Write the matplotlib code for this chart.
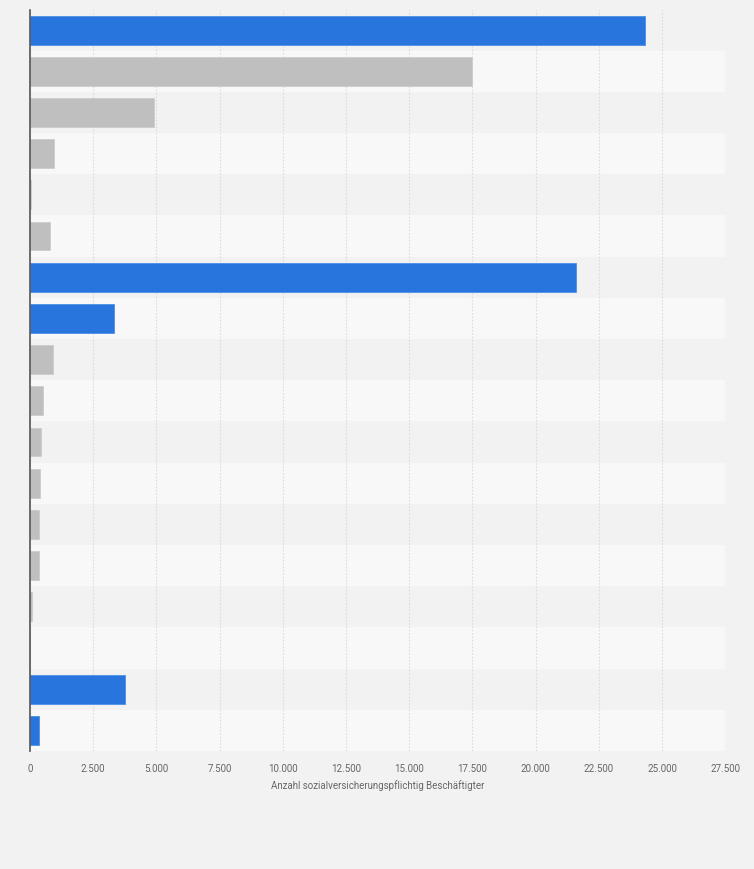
import numpy as np
import matplotlib
matplotlib.use("Agg")
import matplotlib.pyplot as plt
from matplotlib.ticker import FuncFormatter

plt.rcParams['font.family'] = ['Roboto', 'DejaVu Sans']

# values, top to bottom
werte = [24320, 17470, 4900, 955, 25, 790, 21580, 3330, 910, 515,
         440, 395, 355, 355, 75, 10, 3775, 350]
markiert = [1, 0, 0, 0, 0, 0, 1, 1, 0, 0, 0, 0, 0, 0, 0, 0, 1, 1]
xticks = np.arange(0, 27501, 2500)
xlabel = 'Anzahl sozialversicherungspflichtig Beschäftigter'

blau = '#2876dd'
grau = '#bfbfbf'
bg = '#f2f2f2'

fig = plt.figure(figsize=(7.54, 8.70), dpi=100, facecolor=bg)
ax = fig.add_axes([30/754, 1-752/870, (725.3-30)/754, (752-10.5)/870])
ax.set_facecolor(bg)

n = len(werte)
y = np.arange(n)
for i in range(n):
    if i % 2 == 1:
        ax.axhspan(i-0.5, i+0.5, color='#f8f8f8', zorder=0, lw=0)

farben = [blau if m else grau for m in markiert]
kanten = ['#4d8fe6' if m else '#cccccc' for m in markiert]
ax.barh(y, werte, height=0.7, color=farben, edgecolor=kanten, linewidth=0.6, zorder=3)

ax.set_ylim(n-0.5, -0.5)
ax.set_xlim(0, 27500)
ax.set_xticks(xticks)
ax.xaxis.set_major_formatter(FuncFormatter(lambda v, p: f'{int(v):,}'.replace(',', '.')))
ax.set_yticks([])
ax.tick_params(axis='x', length=0, pad=9, labelsize=7, labelcolor='#666666')
ax.grid(axis='x', color='#dcdcdc', linestyle=(0, (1.5, 1.5)), linewidth=0.8, zorder=1)
for s in ['top', 'right', 'bottom']:
    ax.spines[s].set_visible(False)
ax.spines['left'].set_color('#555555')
ax.spines['left'].set_linewidth(1.2)
ax.spines['left'].set_zorder(4)
ax.set_xlabel(xlabel, fontsize=7, color='#666666', labelpad=4)

fig.savefig('out.png', dpi=100, facecolor=bg)
